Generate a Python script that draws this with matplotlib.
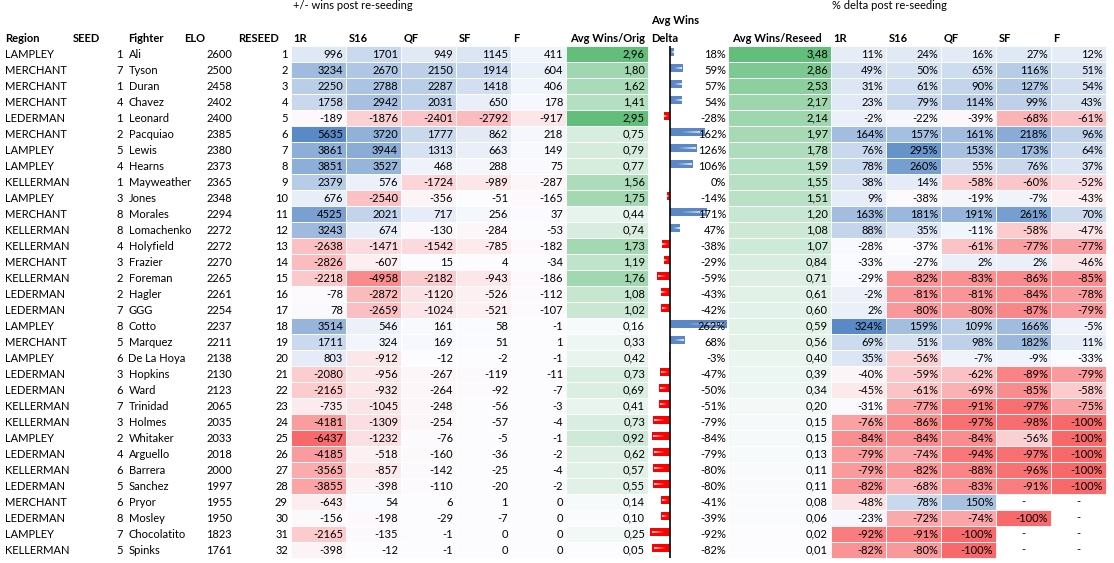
import numpy as np
import matplotlib
matplotlib.use("Agg")
import matplotlib.pyplot as plt
from matplotlib.patches import Rectangle
from matplotlib.colors import to_rgb

plt.rcParams['font.family'] = ['Lato', 'DejaVu Sans']

regions = ["LAMPLEY", "MERCHANT", "MERCHANT", "MERCHANT", "LEDERMAN", "MERCHANT", "LAMPLEY", "LAMPLEY",
           "KELLERMAN", "LAMPLEY", "MERCHANT", "KELLERMAN", "KELLERMAN", "MERCHANT", "KELLERMAN", "LEDERMAN",
           "LEDERMAN", "LAMPLEY", "MERCHANT", "LAMPLEY", "LEDERMAN", "LEDERMAN", "KELLERMAN", "KELLERMAN",
           "LAMPLEY", "LEDERMAN", "KELLERMAN", "LEDERMAN", "MERCHANT", "LEDERMAN", "LAMPLEY", "KELLERMAN"]
seeds = [1, 7, 1, 4, 1, 2, 5, 4, 1, 3, 8, 8, 4, 3, 2, 2, 7, 8, 5, 6, 3, 6, 7, 3, 2, 4, 6, 5, 6, 8, 7, 5]
fighters = ["Ali", "Tyson", "Duran", "Chavez", "Leonard", "Pacquiao", "Lewis", "Hearns", "Mayweather",
            "Jones", "Morales", "Lomachenko", "Holyfield", "Frazier", "Foreman", "Hagler", "GGG", "Cotto",
            "Marquez", "De La Hoya", "Hopkins", "Ward", "Trinidad", "Holmes", "Whitaker", "Arguello",
            "Barrera", "Sanchez", "Pryor", "Mosley", "Chocolatito", "Spinks"]
elo = [2600, 2500, 2458, 2402, 2400, 2385, 2380, 2373, 2365, 2348, 2294, 2272, 2272, 2270, 2265, 2261,
       2254, 2237, 2211, 2138, 2130, 2123, 2065, 2035, 2033, 2018, 2000, 1997, 1955, 1950, 1823, 1761]
reseed = list(range(1, 33))

# +/- wins post re-seeding
w_1r = [996, 3234, 2250, 1758, -189, 5635, 3861, 3851, 2379, 676, 4525, 3243, -2638, -2826, -2218, -78,
        78, 3514, 1711, 803, -2080, -2165, -735, -4181, -6437, -4185, -3565, -3855, -643, -156, -2165, -398]
w_s16 = [1701, 2670, 2788, 2942, -1876, 3720, 3944, 3527, 576, -2540, 2021, 674, -1471, -607, -4958, -2872,
         -2659, 546, 324, -912, -956, -932, -1045, -1309, -1232, -518, -857, -398, 54, -198, -135, -12]
w_qf = [949, 2150, 2287, 2031, -2401, 1777, 1313, 468, -1724, -356, 717, -130, -1542, 15, -2182, -1120,
        -1024, 161, 169, -12, -267, -264, -248, -254, -76, -160, -142, -110, 6, -29, -1, -1]
w_sf = [1145, 1914, 1418, 650, -2792, 862, 663, 288, -989, -51, 256, -284, -785, 4, -943, -526,
        -521, 58, 51, -2, -119, -92, -56, -57, -5, -36, -25, -20, 1, -7, 0, 0]
w_f = [411, 604, 406, 178, -917, 218, 149, 75, -287, -165, 37, -53, -182, -34, -186, -112,
       -107, -1, 1, -1, -11, -7, -3, -4, -1, -2, -4, -2, 0, 0, 0, 0]

avg_orig = [2.96, 1.80, 1.62, 1.41, 2.95, 0.75, 0.79, 0.77, 1.56, 1.75, 0.44, 0.74, 1.73, 1.19, 1.76, 1.08,
            1.02, 0.16, 0.33, 0.42, 0.73, 0.69, 0.41, 0.73, 0.92, 0.62, 0.57, 0.55, 0.14, 0.10, 0.25, 0.05]
delta = [18, 59, 57, 54, -28, 162, 126, 106, 0, -14, 171, 47, -38, -29, -59, -43,
         -42, 262, 68, -3, -47, -50, -51, -79, -84, -79, -80, -80, -41, -39, -92, -82]
avg_reseed = [3.48, 2.86, 2.53, 2.17, 2.14, 1.97, 1.78, 1.59, 1.55, 1.51, 1.20, 1.08, 1.07, 0.84, 0.71, 0.61,
              0.60, 0.59, 0.56, 0.40, 0.39, 0.34, 0.20, 0.15, 0.15, 0.13, 0.11, 0.11, 0.08, 0.06, 0.02, 0.01]

# % delta post re-seeding (None = "-")
p_1r = [11, 49, 31, 23, -2, 164, 76, 78, 38, 9, 163, 88, -28, -33, -29, -2,
        2, 324, 69, 35, -40, -45, -31, -76, -84, -79, -79, -82, -48, -23, -92, -82]
p_s16 = [24, 50, 61, 79, -22, 157, 295, 260, 14, -38, 181, 35, -37, -27, -82, -81,
         -80, 159, 51, -56, -59, -61, -77, -86, -84, -74, -82, -68, 78, -72, -91, -80]
p_qf = [16, 65, 90, 114, -39, 161, 153, 55, -58, -19, 191, -11, -61, 2, -83, -81,
        -80, 109, 98, -7, -62, -69, -91, -97, -84, -94, -88, -83, 150, -74, -100, -100]
p_sf = [27, 116, 127, 99, -68, 218, 173, 76, -60, -7, 261, -58, -77, 2, -86, -84,
        -87, 166, 182, -9, -89, -85, -97, -98, -56, -97, -96, -91, None, -100, None, None]
p_f = [12, 51, 54, 43, -61, 96, 64, 37, -52, -43, 70, -47, -77, -46, -85, -78,
       -79, -5, 11, -33, -79, -58, -75, -100, -100, -100, -100, -100, None, None, None, None]

round_labels = ["1R", "S16", "QF", "SF", "F"]

RED = np.array(to_rgb("#F8696B"))
WHITE = np.array(to_rgb("#FCFCFF"))
BLUE = np.array(to_rgb("#5A8AC6"))
GREEN = np.array(to_rgb("#63BE7B"))
FS = 8


def three_color(v, lo, mid, hi):
	if v <= mid:
		t = (mid - v) / (mid - lo)
		return WHITE + (RED - WHITE) * t
	t = (v - mid) / (hi - mid)
	return WHITE + (BLUE - WHITE) * t


def two_color(v, lo, hi):
	t = (v - lo) / (hi - lo)
	return WHITE + (GREEN - WHITE) * t


def row_y(i):
	return 54 + 16 * i


fig = plt.figure(figsize=(11.14, 5.63), dpi=100)

# data bars for the delta column (drawn under the table text)
bx = fig.add_axes([648 / 1114, 1 - 558 / 563, 80 / 1114, 512 / 563])
bx.set_zorder(1)
bx.axis("off")
rows = np.arange(len(delta))
colors = ["#5B87C6" if d >= 0 else "#FF0000" for d in delta]
bx.barh(rows - 0.12, delta, height=0.5, color=colors, zorder=2)
for i, d in enumerate(delta):
	if d == 0:
		continue
	c0 = np.array(to_rgb(colors[i]))
	g = np.linspace(0, 1, 40)[None, :, None]
	img = c0 * (1 - 0.8 * g) + 0.8 * g
	bx.imshow(img, extent=(0.3 * d, 0.92 * d, i - 0.06, i - 0.18), aspect="auto",
	          interpolation="bilinear", zorder=3)
bx.axvline(0, color="black", linewidth=1.2, zorder=4)
bx.set_xlim(-100.9, 266)
bx.set_ylim(31.5, -0.5)

ax = fig.add_axes([0, 0, 1, 1])
ax.set_zorder(2)
ax.set_xlim(0, 1114)
ax.set_ylim(563, 0)
ax.axis("off")

# headers
hdr = dict(fontsize=FS, fontweight="bold", va="center")
ax.text(5, 38, "Region", **hdr)
ax.text(73, 38, "SEED", **hdr)
ax.text(128.5, 38, "Fighter", **hdr)
ax.text(184, 38, "ELO", **hdr)
ax.text(238.5, 38, "RESEED", **hdr)
ax.text(293, 5.5, "+/- wins post re-seeding", fontsize=FS, va="center")
ax.text(832, 5.5, "% delta post re-seeding", fontsize=FS, va="center")
ax.text(570, 38, "Avg Wins/Orig", **hdr)
ax.text(651, 21, "Avg Wins", **hdr)
ax.text(651, 38, "Delta", **hdr)
ax.text(732, 38, "Avg Wins/Reseed", **hdr)

clip = Rectangle((0, 0), 180, 563, transform=ax.transData)
for i in range(len(fighters)):
	y = row_y(i)
	ax.text(5, y, regions[i], fontsize=FS, va="center")
	ax.text(123, y, str(seeds[i]), fontsize=FS, va="center", ha="right")
	t = ax.text(128.5, y, fighters[i], fontsize=FS, va="center")
	t.set_clip_path(clip)
	ax.text(232, y, str(elo[i]), fontsize=FS, va="center", ha="right")
	ax.text(288, y, str(reseed[i]), fontsize=FS, va="center", ha="right")

# wins block
wins = [w_1r, w_s16, w_qf, w_sf, w_f]
allw = np.array(wins, dtype=float)
wlo, wmid, whi = allw.min(), np.median(allw), allw.max()
for c, col in enumerate(wins):
	x0 = 291 + 55 * c
	ax.text(x0 + 2.5, 38, round_labels[c], **hdr)
	for i, v in enumerate(col):
		y = row_y(i)
		ax.add_patch(Rectangle((x0, y - 8), 55, 16, facecolor=three_color(v, wlo, wmid, whi),
		                       edgecolor="white", linewidth=0.6))
		ax.text(x0 + 52, y, str(v), fontsize=FS, va="center", ha="right")

# avg wins columns
for i in range(len(avg_orig)):
	y = row_y(i)
	ax.add_patch(Rectangle((566, y - 8), 82, 16, facecolor=two_color(avg_orig[i], min(avg_orig), max(avg_orig)),
	                       edgecolor="white", linewidth=0.6))
	ax.text(645, y, ("%.2f" % avg_orig[i]).replace(".", ","), fontsize=FS, va="center", ha="right")
	ax.add_patch(Rectangle((728, y - 8), 103, 16,
	                       facecolor=two_color(avg_reseed[i], min(avg_reseed), max(avg_reseed)),
	                       edgecolor="white", linewidth=0.6))
	ax.text(828, y, ("%.2f" % avg_reseed[i]).replace(".", ","), fontsize=FS, va="center", ha="right")
	ax.text(726, y, "%d%%" % delta[i], fontsize=FS, va="center", ha="right")

# % delta block
pcts = [p_1r, p_s16, p_qf, p_sf, p_f]
allp = np.array([[np.nan if v is None else v for v in col] for col in pcts], dtype=float)
plo, pmid, phi = np.nanmin(allp), np.nanmedian(allp), np.nanmax(allp)
for c, col in enumerate(pcts):
	x0 = 831 + 55 * c
	ax.text(x0 + 2.5, 38, round_labels[c], **hdr)
	for i, v in enumerate(col):
		y = row_y(i)
		if v is None:
			ax.text(x0 + 27.5, y, "-", fontsize=FS, va="center", ha="center")
			continue
		ax.add_patch(Rectangle((x0, y - 8), 55, 16, facecolor=three_color(v, plo, pmid, phi),
		                       edgecolor="white", linewidth=0.6))
		ax.text(x0 + 52, y, "%d%%" % v, fontsize=FS, va="center", ha="right")

fig.savefig("out.png", dpi=100)
